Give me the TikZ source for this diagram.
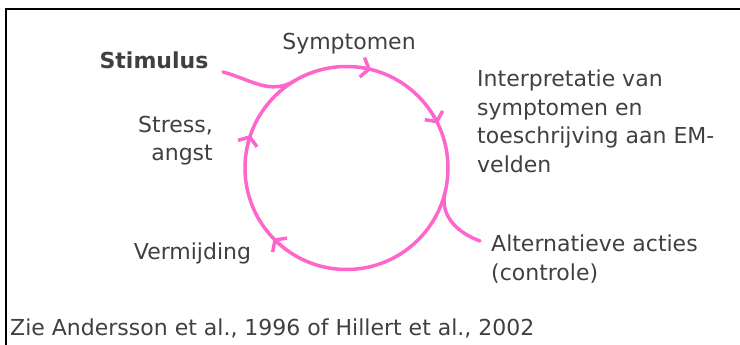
\documentclass[tikz,border=0pt]{standalone}
\usepackage{fontspec}
\setmainfont{DejaVu Sans}
\usetikzlibrary{arrows.meta}
\definecolor{cyclepink}{RGB}{255,102,204}
\definecolor{txtgray}{RGB}{64,64,64}

\begin{document}
\begin{tikzpicture}[x=1pt,y=1pt,font=\fontsize{22}{28.5}\selectfont,text=txtgray,
  cyc/.style={cyclepink,line width=3.5pt,line cap=round},
  tip/.style={cyc,-{Straight Barb[length=7pt,width=20pt]}},
  lbl/.style={inner sep=0pt,align=#1},lbl/.default=center]
\useasboundingbox (0,0) rectangle (740,345);
\draw[line width=2.5pt] (6,0) -- (6,336) -- (740,336);
\coordinate (c) at (346.5,177);
\draw[cyc] (c) circle (101.5);
\foreach \a in {76,26,161,224}
	\draw[tip] (c) ++(\a+5:101.5) arc (\a+5:\a:101.5);
\path (c) +(121:101.5) coordinate (jstim) +(-15:101.5) coordinate (jalt);
\coordinate (stimend) at (223,273);
\coordinate (altend) at (480,104);
\draw[cyc] (stimend) to[out=-15,in=211] (jstim);
\draw[cyc] (jalt) to[out=-100,in=160] (altend);
\node[lbl,font=\fontsize{22}{28.5}\selectfont\bfseries] (stim) at (154,285) {Stimulus};
\node[lbl] (symp) at (349,301) {Symptomen};
\node[lbl=left,anchor=west] (interp) at (477,223.5) {Interpretatie van\\symptomen en\\toeschrijving aan EM-\\velden};
\node[lbl=right,anchor=east] (stress) at (213,204.5) {Stress,\\angst};
\node[lbl] (verm) at (192.5,92) {Vermijding};
\node[lbl=left,anchor=west] (alt) at (491,86) {Alternatieve acties\\(controle)};
\node[lbl=left,anchor=west] (ref) at (10,17) {Zie Andersson et al., 1996 of Hillert et al., 2002};
\end{tikzpicture}
\end{document}
